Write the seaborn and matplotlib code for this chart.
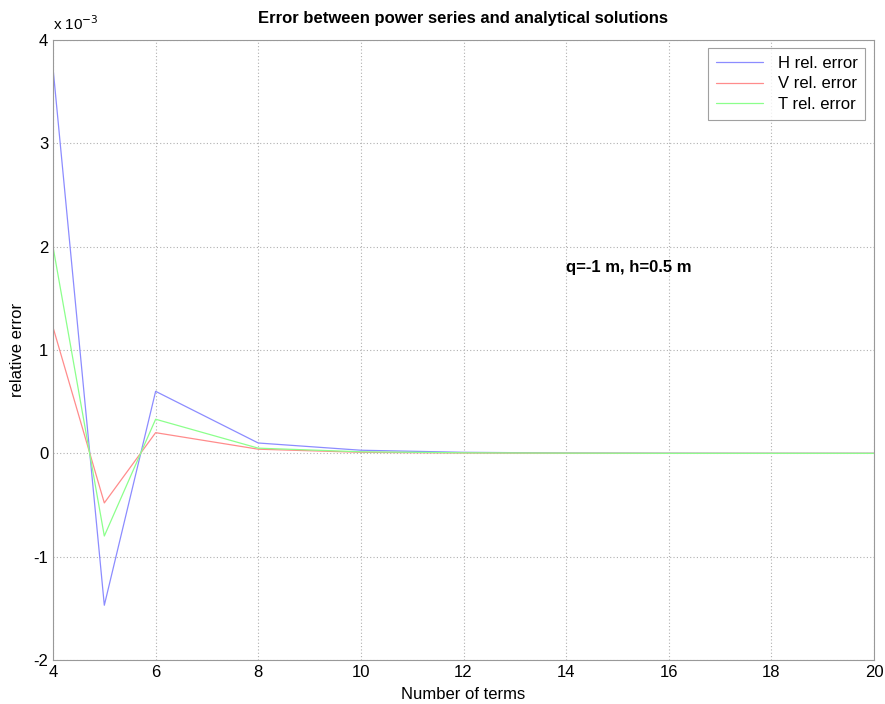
import matplotlib
matplotlib.use("Agg")
import matplotlib.pyplot as plt
import seaborn as sns
import pandas as pd

# Data (relative error, in units of 1e-3)
n_terms = [4, 5, 6, 8, 10, 12, 14, 16, 18, 20]
h_err = [3.73, -1.47, 0.60, 0.10, 0.03, 0.01, 0.003, 0.001, 0.0, 0.0]
v_err = [1.22, -0.48, 0.20, 0.04, 0.01, 0.003, 0.001, 0.0, 0.0, 0.0]
t_err = [2.00, -0.80, 0.33, 0.05, 0.015, 0.005, 0.002, 0.0, 0.0, 0.0]
series_names = ["H rel. error", "V rel. error", "T rel. error"]
x_ticks = [4, 6, 8, 10, 12, 14, 16, 18, 20]
y_ticks = [-2, -1, 0, 1, 2, 3, 4]

sns.set_theme(style="white")
plt.rcParams['font.family'] = ['Liberation Sans', 'DejaVu Sans']
plt.rcParams['axes.unicode_minus'] = False
plt.rcParams['text.color'] = 'black'
plt.rcParams['axes.labelcolor'] = 'black'

df = pd.concat([
    pd.DataFrame({"n": n_terms, "err": h_err, "series": series_names[0]}),
    pd.DataFrame({"n": n_terms, "err": v_err, "series": series_names[1]}),
    pd.DataFrame({"n": n_terms, "err": t_err, "series": series_names[2]}),
])

palette = {series_names[0]: "#8c8cff", series_names[1]: "#ff8c8c", series_names[2]: "#8cff8c"}

fig = plt.figure(figsize=(8.85, 7.04), dpi=100)
ax = fig.add_axes([53/885, 44/704, (874-53)/885, (660-40)/704])

sns.lineplot(data=df, x="n", y="err", hue="series", palette=palette,
             linewidth=0.9, ax=ax, legend=True, sort=False)

ax.set_xlim(4, 20)
ax.set_ylim(-2, 4)
ax.set_xticks(x_ticks)
ax.set_yticks(y_ticks)
ax.grid(True, color="#b0b0b0", linestyle=(0, (1, 2)), linewidth=0.8)
for s in ax.spines.values():
    s.set_color("#999999")
    s.set_linewidth(0.8)
ax.tick_params(direction="in", length=4, colors="#999999", labelcolor="black", labelsize=12)

ax.set_xlabel("Number of terms", fontsize=12, color="black", labelpad=5)
ax.set_ylabel("relative error", fontsize=12, color="black", labelpad=6)
ax.set_title("Error between power series and analytical solutions",
             fontsize=12, fontweight="bold", pad=12, color="black")
ax.text(0.0, 1.012, r"x 10$^{-3}$", transform=ax.transAxes, fontsize=11, va="bottom", ha="left")
ax.text(14, 1.8, "q=-1 m, h=0.5 m", fontsize=12, fontweight="bold", va="center", ha="left")

leg = ax.legend(loc="upper right", bbox_to_anchor=(0.989, 0.987), borderaxespad=0,
                fontsize=12, frameon=True, fancybox=False, edgecolor="#888888",
                handlelength=2.8, borderpad=0.45, labelspacing=0.35, handletextpad=0.9)
leg.get_frame().set_linewidth(0.8)
for line in leg.get_lines():
    line.set_linewidth(0.9)

fig.savefig("out.png", dpi=100)
